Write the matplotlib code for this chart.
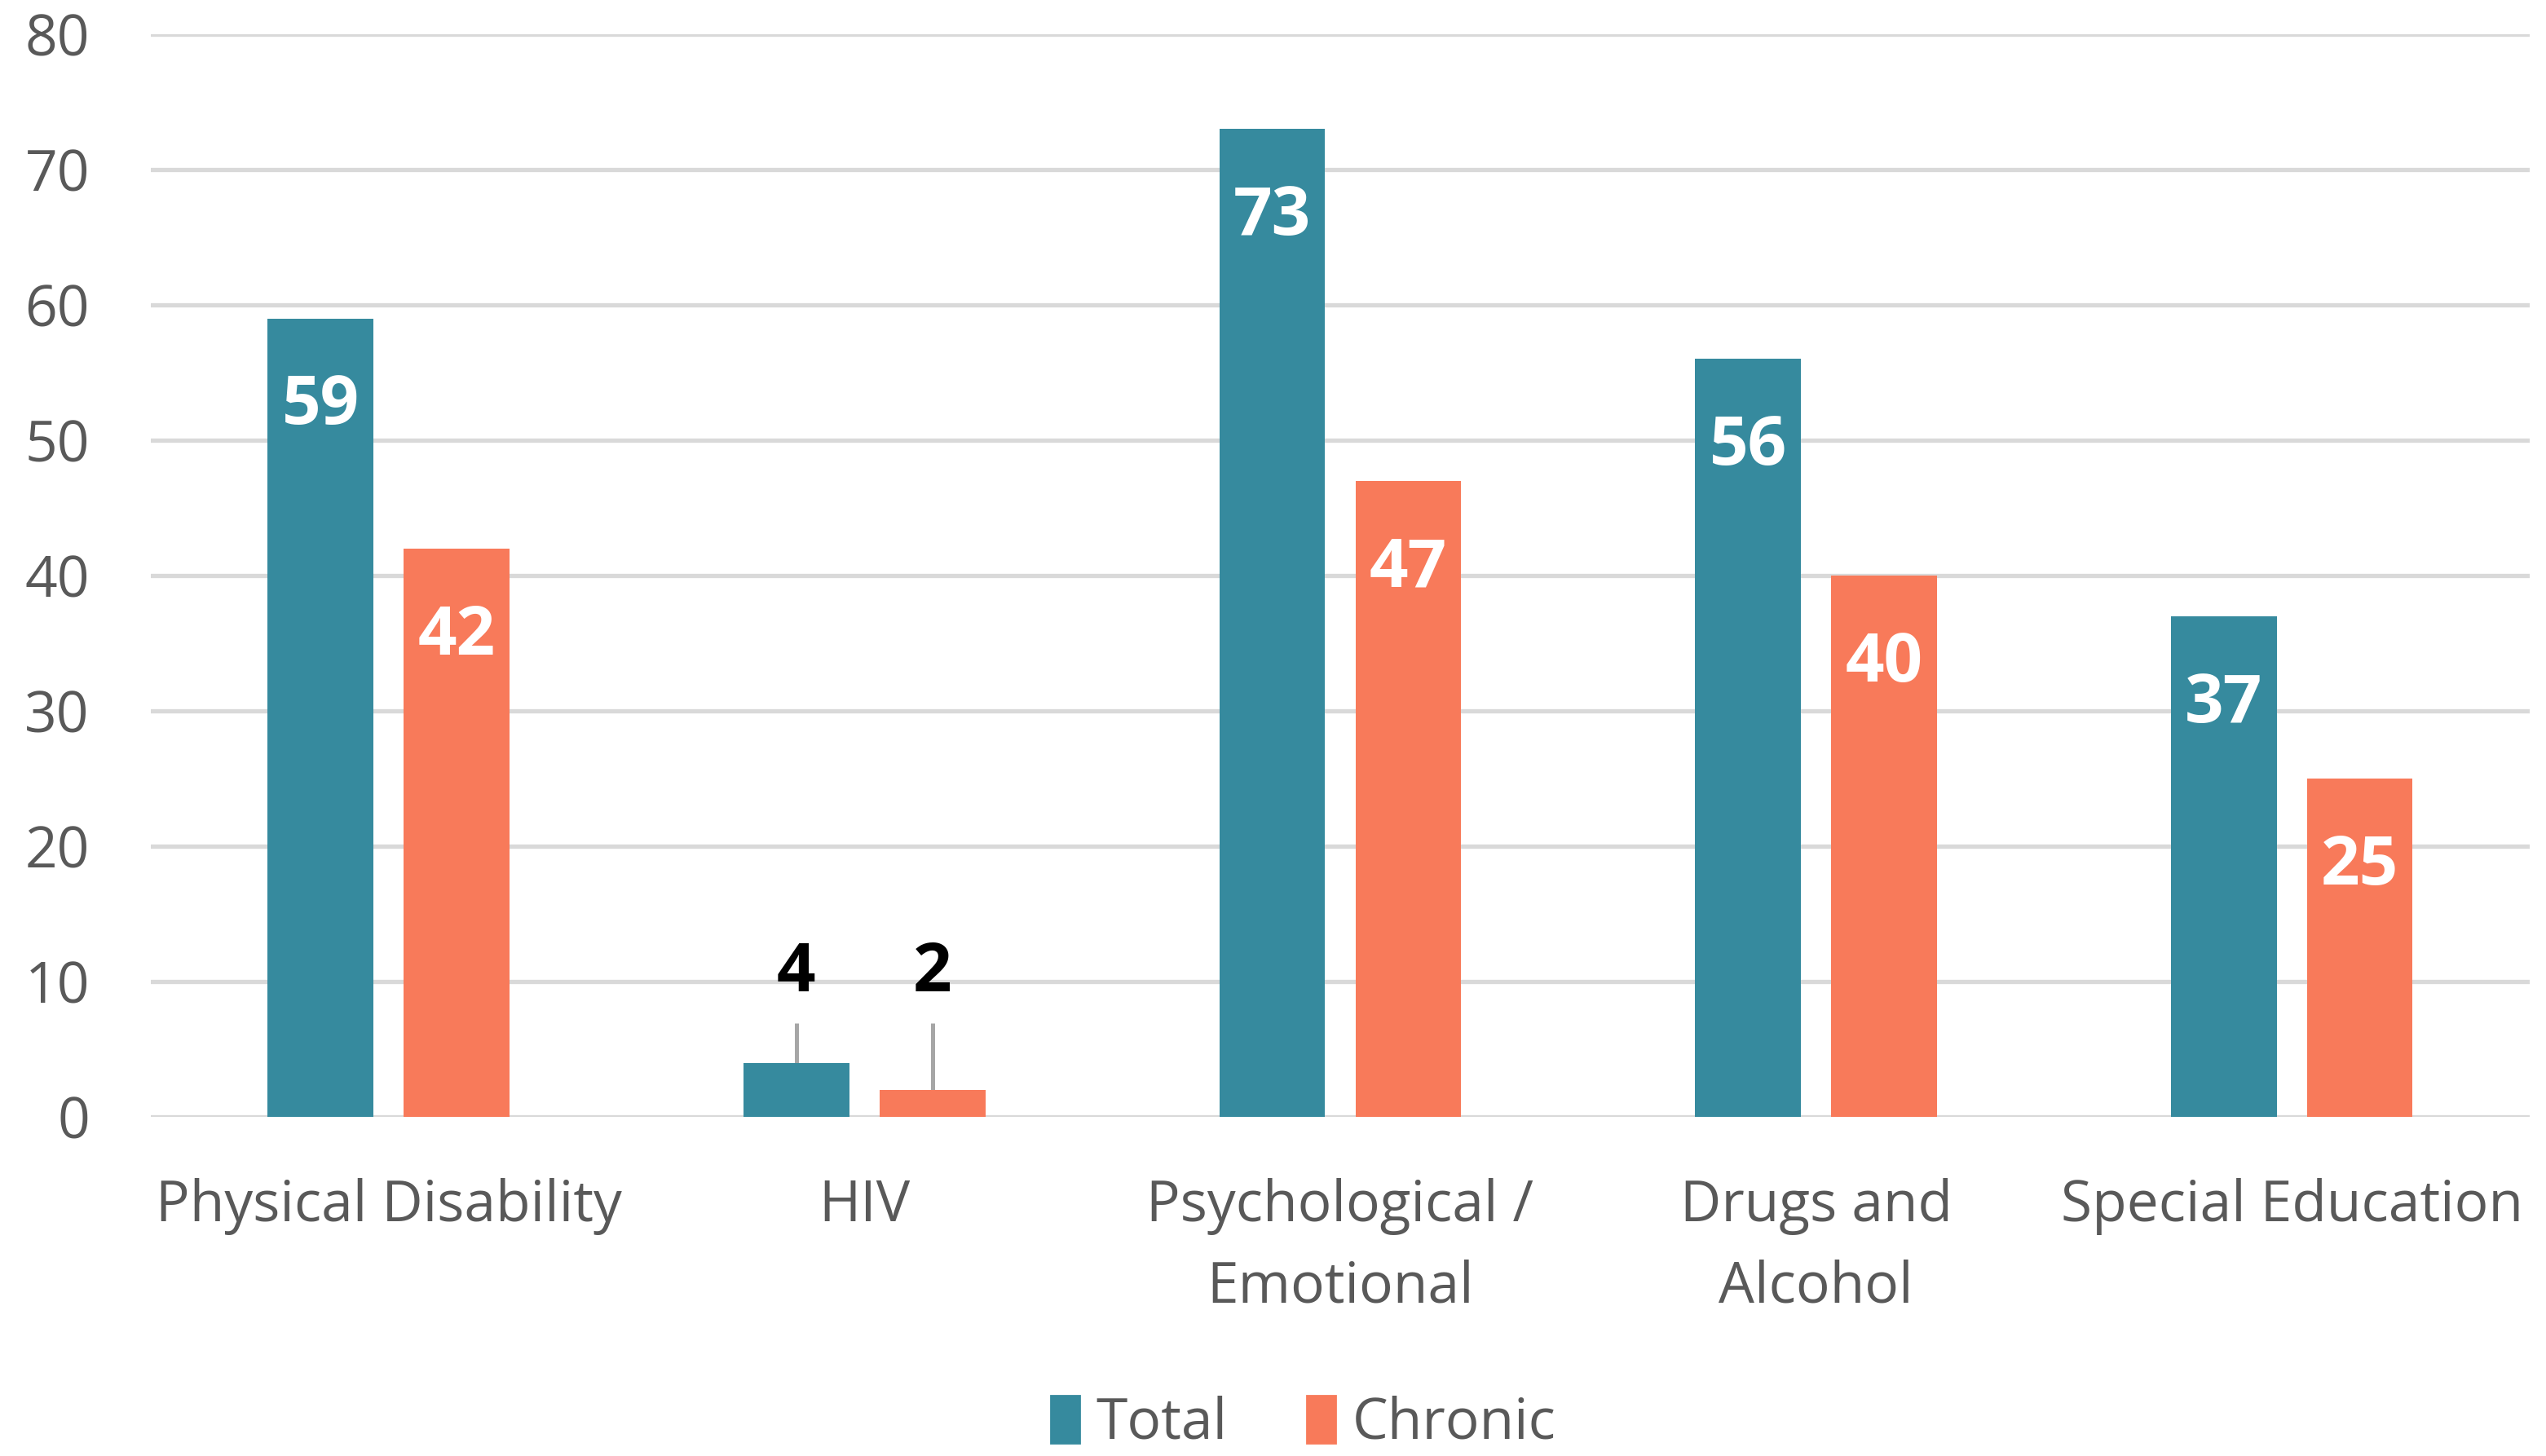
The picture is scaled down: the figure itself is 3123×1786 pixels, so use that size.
import numpy as np
import matplotlib
matplotlib.use("Agg")
import matplotlib.pyplot as plt
from matplotlib.patches import Patch

categories = ["Physical Disability", "HIV", "Psychological /\nEmotional",
              "Drugs and\nAlcohol", "Special Education"]
total = [59, 4, 73, 56, 37]
chronic = [42, 2, 47, 40, 25]
series_names = ["Total", "Chronic"]

TEAL = "#368A9E"
ORANGE = "#F87A5A"
GRID = "#D9D9D9"
TXT = "#595959"

plt.rcParams["font.family"] = ["Open Sans", "DejaVu Sans"]

fig = plt.figure(figsize=(15.615, 8.93), dpi=200)
ax = fig.add_axes([0.0592, 0.2329, 0.9344, 0.7436])

x = np.arange(len(categories))
w = 0.222
off = 0.143
b1 = ax.bar(x - off, total, w, color=TEAL, zorder=3)
b2 = ax.bar(x + off, chronic, w, color=ORANGE, zorder=3)

# labels: inside bar top (white) or above with a leader line when the bar is too short
small_thr = 10
for bars in (b1, b2):
    for rect in bars:
        v = rect.get_height()
        cx = rect.get_x() + rect.get_width() / 2
        if v >= small_thr:
            ax.annotate(f"{v:g}", (cx, v), xytext=(0, -39), textcoords="offset points",
                        ha="center", va="center", color="white", fontsize=30,
                        fontweight="bold", zorder=4)
        else:
            ax.vlines(cx, v, 6.9, color="#A6A6A6", lw=1.8, zorder=2)
            ax.text(cx, 10.6, f"{v:g}", ha="center", va="center", color="black",
                    fontsize=30, fontweight="bold", zorder=4)

ax.set_xlim(-0.5, len(categories) - 0.5)
ax.set_ylim(0, 80)
ax.set_yticks(np.arange(0, 81, 10))
ax.set_xticks(x)
ax.set_xticklabels(categories, linespacing=1.55)
ax.tick_params(axis="both", length=0, colors=TXT, labelsize=25)
ax.tick_params(axis="y", pad=27)
ax.tick_params(axis="x", pad=27)
for lab in ax.get_yticklabels():
    lab.set_color(TXT)
for lab in ax.get_xticklabels():
    lab.set_color(TXT)
    lab.set_verticalalignment("top")
ax.grid(axis="y", color=GRID, lw=1.9, zorder=0)
for s in ax.spines.values():
    s.set_visible(False)

handles = [Patch(color=TEAL, label=series_names[0]), Patch(color=ORANGE, label=series_names[1])]
fig.legend(handles=handles, loc="center", bbox_to_anchor=(0.512, 0.022), ncol=2,
           frameon=False, fontsize=25, labelcolor=TXT, handlelength=0.5, handleheight=0.9,
           handletextpad=0.3, columnspacing=1.4)

fig.savefig("out.png", dpi=200)
